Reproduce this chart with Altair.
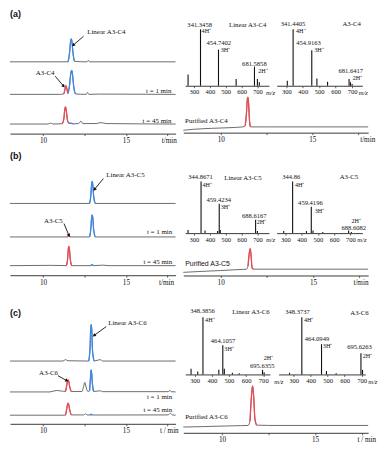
import math
import altair as alt
import pandas as pd

# ======================= DATA =======================
# HPLC traces: (retention time / min, signal above that trace's own baseline, a.u.)
# ---- (a) A3-C4 ----
A_LINEAR = [(8.0, 0), (11.5, 0), (11.6, 10), (11.65, 20), (11.7, 24), (11.75, 20), (11.8, 10), (11.9, 0.5),
            (12.65, 0), (12.73, 1.5), (12.8, 0), (18.0, 0)]
A_T1 = [(8.0, 0), (11.0, 0), (11.25, 0.5), (11.33, 6), (11.38, 9), (11.43, 6), (11.5, 1), (11.6, 10),
        (11.68, 23), (11.73, 25), (11.78, 20), (11.85, 8), (11.95, 0.5), (12.6, 0), (12.68, 2), (12.76, 0),
        (13.4, 0.3), (18.0, 0)]
A_T45 = [(8.0, 0), (10.3, 0), (10.44, 1), (10.6, 0), (11.15, 0.3), (11.25, 5), (11.3, 14), (11.35, 18),
         (11.4, 14), (11.47, 4), (11.55, 1), (11.7, 0.8), (11.85, 0.2), (12.15, 0.5), (12.28, 3), (12.4, 0.5),
         (13.2, 0.5), (13.5, 1.5), (13.8, 0.5), (18.0, 0)]
A_OFFSETS = [75, 41, 10]
A_HIGHLIGHT = [(0, 11.5, 11.9, "blue"), (1, 11.25, 11.5, "red"), (1, 11.5, 11.95, "blue"),
               (2, 11.15, 11.55, "red"), (2, 11.55, 11.85, "blue")]
A_PURIFIED = [(7.95, 2.5), (8.5, 3.5), (9.5, 4.5), (10.5, 5.2), (11.2, 6), (11.33, 7), (11.4, 20), (11.45, 35),
              (11.48, 37), (11.52, 30), (11.57, 12), (11.62, 6), (12.5, 6), (18.05, 6)]
A_PURIFIED_RED = [(0, 11.3, 11.62, "red")]
A_MS_LINEAR = [(263, 20), (341.3458, 100), (454.7402, 64), (566, 12), (681.5858, 34), (700, 12), (712, 6)]
A_MS_CYCLIC = [(306, 9), (341.4405, 100), (454.9163, 63), (486, 13), (551, 7), (681.6417, 12), (690, 6), (700, 3)]
A_MS_LINEAR_NUM = [("341.3458", 336, 108), ("454.7402", 457, 75), ("681.5858", 681, 39)]
A_MS_LINEAR_CHG = [("4H⁺", 348, 97), ("3H⁺", 469, 63), ("2H⁺", 705, 26)]
A_MS_LINEAR_NAME = [("Linear A3-C4", 639, 108)]
A_MS_CYCLIC_NUM = [("341.4405", 341, 110), ("454.9163", 435, 75), ("681.6417", 692, 26)]
A_MS_CYCLIC_CHG = [("4H⁺", 359, 97), ("3H⁺", 470, 64), ("2H⁺", 704, 13)]
A_MS_CYCLIC_NAME = [("A3-C4", 697, 110)]

# ---- (b) A3-C5 ----
B_LINEAR = [(8.0, 0), (12.8, 0), (12.88, 8), (12.93, 20), (12.96, 23), (13.0, 20), (13.05, 8), (13.15, 0), (18.0, 0)]
B_T1 = [(8.0, 0), (11.45, 0), (11.55, 1.2), (11.65, 0), (12.8, 0), (12.88, 8), (12.93, 20), (12.96, 23),
        (13.0, 20), (13.05, 8), (13.15, 0), (18.0, 0)]
B_T45 = [(8.0, 0), (10.5, 0.3), (11.4, 0), (11.48, 7), (11.52, 17), (11.55, 20), (11.59, 17), (11.64, 7),
         (11.73, 0), (12.88, 0), (12.95, 1), (13.03, 0), (13.6, 0.5), (14.0, 0), (18.0, 0)]
B_OFFSETS = [75, 40, 10]
B_HIGHLIGHT = [(0, 12.8, 13.15, "blue"), (1, 11.45, 11.65, "red"), (1, 12.8, 13.15, "blue"),
               (2, 11.4, 11.73, "red"), (2, 12.88, 13.03, "blue")]
B_PURIFIED = [(7.98, 3.3), (9.0, 4.3), (10.0, 5.2), (11.0, 6.2), (11.4, 6.6), (11.48, 10), (11.54, 22),
              (11.6, 28), (11.65, 20), (11.7, 8), (11.78, 6.6), (17.98, 6.6)]
B_PURIFIED_RED = [(0, 11.45, 11.78, "red")]
B_MS_LINEAR = [(263, 6), (344.8671, 100), (370, 5), (449, 4), (459.4234, 57), (466, 6), (688.6167, 26), (700, 4)]
B_MS_CYCLIC = [(290, 4), (344.86, 100), (430, 4), (459.4196, 51), (470, 5), (530, 2), (688.6082, 5), (705, 2)]
B_MS_LINEAR_NUM = [("344.8671", 342, 109), ("459.4234", 457, 64), ("688.6167", 680, 34)]
B_MS_LINEAR_CHG = [("4H⁺", 354, 93), ("3H⁺", 469, 50), ("2H⁺", 696, 21)]
B_MS_LINEAR_NAME = [("Linear A3-C5", 609, 107)]
B_MS_CYCLIC_NUM = [("344.86", 336, 108), ("459.4196", 454, 58), ("688.6082", 720, 9)]
B_MS_CYCLIC_CHG = [("4H⁺", 359, 93), ("3H⁺", 480, 43), ("2H⁺", 706, 24)]
B_MS_CYCLIC_NAME = [("A3-C5", 690, 108)]

# ---- (c) A3-C6 ----
C_LINEAR = [(8.0, 0), (11.2, 0), (11.35, 1.5), (11.5, 0.3), (12.75, 0), (12.83, 12), (12.87, 32), (12.9, 38),
            (12.94, 32), (12.98, 12), (13.08, 0), (13.45, 1.5), (13.6, 0), (18.0, 0)]
C_T1 = [(8.0, 0), (10.4, 0), (10.8, 1.5), (11.1, 1), (11.35, 0.5), (11.42, 6), (11.47, 11), (11.51, 12.7),
        (11.55, 11), (11.6, 6), (11.7, 0.5), (12.35, 0.5), (12.45, 6), (12.52, 10), (12.58, 6), (12.7, 0.5),
        (12.8, 1), (12.85, 12), (12.88, 20), (12.9, 23), (12.93, 20), (12.97, 10), (13.05, 0.5), (13.45, 1.2),
        (13.6, 0.3), (17.55, 0.3), (17.65, 1.5), (17.75, 0.3), (18.0, 0)]
C_T45 = [(8.0, 0), (11.35, 0), (11.42, 6), (11.47, 11), (11.51, 12.6), (11.55, 11), (11.6, 6), (11.7, 0.3),
         (12.45, 0.3), (12.55, 1.5), (12.65, 0.3), (12.85, 0.2), (12.9, 1), (12.97, 0.2), (17.55, 0.3),
         (17.68, 2), (17.8, 0.3), (18.0, 0)]
C_OFFSETS = [65.6, 33.3, 9]
C_HIGHLIGHT = [(0, 12.75, 13.08, "blue"), (1, 11.35, 11.7, "red"), (1, 12.8, 13.05, "blue"),
               (2, 11.35, 11.7, "red"), (2, 12.85, 12.97, "blue")]
C_PURIFIED = [(7.92, 6), (9.0, 6.5), (10.0, 7), (11.0, 7.5), (11.4, 7.7), (11.5, 12), (11.57, 35), (11.64, 49),
              (11.7, 38), (11.77, 14), (11.86, 8), (12.5, 7.7), (17.85, 7.7)]
C_PURIFIED_RED = [(0, 11.45, 11.86, "red")]
C_MS_LINEAR = [(279, 10), (318, 5), (348.3856, 100), (441, 8), (464.1057, 51), (473, 10), (520, 3), (560, 2),
               (695.6355, 8), (705, 4)]
C_MS_CYCLIC = [(276, 3), (348.3737, 100), (464.0949, 53), (493, 6), (550, 2), (695.6263, 37), (705, 8)]
C_MS_LINEAR_NUM = [("348.3856", 346, 111), ("464.1057", 466, 58), ("695.6355", 694, 15)]
C_MS_LINEAR_CHG = [("4H⁺", 361, 96), ("3H⁺", 473, 45), ("2H⁺", 703, 28)]
C_MS_LINEAR_NAME = [("Linear A3-C6", 628, 110)]
C_MS_CYCLIC_NUM = [("348.3737", 323, 110), ("464.0949", 437, 62), ("695.6263", 687, 48)]
C_MS_CYCLIC_CHG = [("4H⁺", 361, 95), ("3H⁺", 472, 49), ("2H⁺", 706, 32)]
C_MS_CYCLIC_NAME = [("A3-C6", 687, 108)]

# annotations on the left chromatograms: (text, time, signal)
A_NOTES_LEFT = [("Linear A3-C4", 12.66, 106)]
A_NOTES_CENTER = [("A3-C4", 10.12, 63)]
A_NOTES_RIGHT = [("t = 1 min", 17.75, 44), ("t = 45 min", 17.75, 13)]
A_ARROWS = [(12.44, 101.7, 11.84, 92.7), (10.73, 60, 11.22, 50)]
B_NOTES_LEFT = [("Linear A3-C5", 13.81, 105)]
B_NOTES_CENTER = [("A3-C5", 10.62, 57)]
B_NOTES_RIGHT = [("t = 1 min", 17.8, 45), ("t = 45 min", 17.8, 14)]
B_ARROWS = [(13.64, 101, 13.12, 90), (11.26, 54, 11.55, 42)]
C_NOTES_LEFT = [("Linear A3-C6", 13.93, 105.3)]
C_NOTES_CENTER = [("A3-C6", 10.33, 53)]
C_NOTES_RIGHT = [("t = 1 min", 17.8, 28), ("t = 45 min", 17.8, 14)]
C_ARROWS = [(13.81, 101.6, 13.1, 92.6), (10.9, 50.3, 11.41, 45.3)]
PANEL_LETTERS = [("(a)", 8.0, 125), ("(b)", 8.0, 125), ("(c)", 8.0, 116)]
PURIFIED_NOTES = [("Purified A3-C4", 8.05, 12), ("Purified A3-C5", 8.08, 11.6), ("Purified A3-C6", 8.02, 16)]

CHROM_TICKS = [10, 12.5, 15, 17.5]
MS_TICKS = [300, 400, 500, 600, 700]

# ======================= LAYOUT / STYLE =======================
W, H = 370, 437
SX, SY = 0.968, 0.962
SERIF = "Liberation Serif"
SANS = "Liberation Sans"
INK = "#111111"
GREY = "#5c5c5c"
COLOURS = {"blue": "#3d88e6", "red": "#ec4a53"}


def px(x):
    return (x - 3) * SX


def py(y):
    return (y - 1) * SY


layers = []


def scale(dom, box, ydir=False):
    f = py if ydir else px
    return alt.Scale(domain=list(dom), range=[f(box[0]), f(box[1])], nice=False, zero=False)


def bottom_axis(values, axis_y, title, title_x, size, minor=False, italic=False):
    kw = dict(orient="bottom", offset=py(axis_y) - H, values=values, grid=False,
              domainColor="#3a3a3a", domainWidth=1, tickColor="#3a3a3a", tickSize=2, tickWidth=0.8,
              labelFont=SERIF, labelFontSize=size, labelColor=INK, labelPadding=1,
              labelFlush=False, labelOverlap=False,
              title=title, titleFont=SERIF, titleFontSize=size, titleFontWeight="normal",
              titleColor=INK, titleX=px(title_x), titleY=3 + size / 2 + 0.5, titleAlign="center",
              titleBaseline="middle", titleAngle=0)
    if minor:
        kw["labelExpr"] = "datum.value % 5 === 0 ? datum.label : ''"
    if italic:
        kw["titleFontStyle"] = "italic"
    return alt.Axis(**kw)


def add_texts(items, xs, ys, align, size, font=SERIF, weight="normal", style="normal"):
    if not items:
        return
    df = pd.DataFrame(items, columns=["label", "x", "y"])
    layers.append(
        alt.Chart(df).mark_text(align=align, baseline="middle", font=font, fontSize=size,
                                fontWeight=weight, fontStyle=style, color=INK)
        .encode(x=alt.X("x:Q", scale=xs, axis=None), y=alt.Y("y:Q", scale=ys, axis=None), text="label:N"))


def add_arrows(arrows, xdom, xbox, ydom, ybox, xs, ys):
    kx = (px(xbox[1]) - px(xbox[0])) / (xdom[1] - xdom[0])
    ky = (py(ybox[0]) - py(ybox[1])) / (ydom[1] - ydom[0])
    rows = []
    for x1, y1, x2, y2 in arrows:
        dx = (x2 - x1) * kx
        dy = -(y2 - y1) * ky
        ang = math.degrees(math.atan2(dx, -dy)) % 360
        rows.append(dict(x1=x1, y1=y1, x2=x2, y2=y2, ang=ang))
    df = pd.DataFrame(rows)
    layers.append(
        alt.Chart(df).mark_rule(color=INK, strokeWidth=0.9)
        .encode(x=alt.X("x1:Q", scale=xs, axis=None), y=alt.Y("y1:Q", scale=ys, axis=None),
                x2="x2:Q", y2="y2:Q"))
    layers.append(
        alt.Chart(df).mark_point(shape="triangle", filled=True, size=14, color=INK, opacity=1)
        .encode(x=alt.X("x2:Q", scale=xs, axis=None), y=alt.Y("y2:Q", scale=ys, axis=None),
                angle=alt.Angle("ang:Q", scale=None)))


def add_chrom(traces, offsets, highlights, xdom, xbox, ydom, ybox, axis):
    xs = scale(xdom, xbox)
    ys = scale(ydom, ybox, ydir=True)
    rows = [{"t": t, "v": s + off, "trace": i}
            for i, (pts, off) in enumerate(zip(traces, offsets)) for t, s in pts]
    layers.append(
        alt.Chart(pd.DataFrame(rows)).mark_line(color=GREY, strokeWidth=0.9, interpolate="monotone")
        .encode(x=alt.X("t:Q", scale=xs, axis=axis), y=alt.Y("v:Q", scale=ys, axis=None), detail="trace:N"))
    for colour in ("blue", "red"):
        hrows = []
        for k, (i, t0, t1, c) in enumerate(highlights):
            if c != colour:
                continue
            for t, s in traces[i]:
                if t0 <= t <= t1:
                    hrows.append({"t": t, "v": s + offsets[i], "seg": k})
        if hrows:
            layers.append(
                alt.Chart(pd.DataFrame(hrows))
                .mark_line(color=COLOURS[colour], strokeWidth=1.3, interpolate="monotone")
                .encode(x=alt.X("t:Q", scale=xs, axis=None), y=alt.Y("v:Q", scale=ys, axis=None),
                        detail="seg:N"))
    return xs, ys


def add_ms(peaks, xdom, xbox, ybox, axis_title_x, nums, charges, name):
    xs = scale(xdom, xbox)
    ys = scale((0, 100), ybox, ydir=True)
    df = pd.DataFrame(peaks, columns=["mz", "rel"])
    df["base"] = 0
    axis = bottom_axis(MS_TICKS, ybox[0], "m/z", axis_title_x, 6.6, italic=True)
    layers.append(
        alt.Chart(df).mark_rule(color=INK, strokeWidth=1.1)
        .encode(x=alt.X("mz:Q", scale=xs, axis=axis), y=alt.Y("rel:Q", scale=ys, axis=None), y2="base:Q"))
    add_texts(nums, xs, ys, "center", 6.6)
    add_texts(charges, xs, ys, "left", 6.2)
    add_texts(name, xs, ys, "center", 6.8)


# ======================= PANELS =======================
panels = [
    dict(tr=[A_LINEAR, A_T1, A_T45], off=A_OFFSETS, hl=A_HIGHLIGHT, box=(130, 20), ttl="t/min", ttlx=168,
         nl=A_NOTES_LEFT, nc=A_NOTES_CENTER, nr=A_NOTES_RIGHT, arr=A_ARROWS, letter=PANEL_LETTERS[0],
         pur=A_PURIFIED, pr=A_PURIFIED_RED, pdom=(7.95, 18.05), pbox=(129, 88), pymax=41, pttlx=374,
         pnote=PURIFIED_NOTES[0], pfont=SERIF,
         ms1=(A_MS_LINEAR, (245, 773), (185, 272), 273, A_MS_LINEAR_NUM, A_MS_LINEAR_CHG, A_MS_LINEAR_NAME),
         ms2=(A_MS_CYCLIC, (241.5, 762.6), (280, 369), 369.5, A_MS_CYCLIC_NUM, A_MS_CYCLIC_CHG, A_MS_CYCLIC_NAME),
         msy=(80, 21)),
    dict(tr=[B_LINEAR, B_T1, B_T45], off=B_OFFSETS, hl=B_HIGHLIGHT, box=(278, 168), ttl="t/min", ttlx=165,
         nl=B_NOTES_LEFT, nc=B_NOTES_CENTER, nr=B_NOTES_RIGHT, arr=B_ARROWS, letter=PANEL_LETTERS[1],
         pur=B_PURIFIED, pr=B_PURIFIED_RED, pdom=(7.98, 17.98), pbox=(278.3, 245), pymax=33.3, pttlx=367,
         pnote=PURIFIED_NOTES[1], pfont=SANS,
         ms1=(B_MS_LINEAR, (245, 773), (185, 272), 273, B_MS_LINEAR_NUM, B_MS_LINEAR_CHG, B_MS_LINEAR_NAME),
         ms2=(B_MS_CYCLIC, (247, 773), (280, 369), 368, B_MS_CYCLIC_NUM, B_MS_CYCLIC_CHG, B_MS_CYCLIC_NAME),
         msy=(234, 180)),
    dict(tr=[C_LINEAR, C_T1, C_T45], off=C_OFFSETS, hl=C_HIGHLIGHT, box=(433.3, 323.3), ttl="t / min", ttlx=168,
         nl=C_NOTES_LEFT, nc=C_NOTES_CENTER, nr=C_NOTES_RIGHT, arr=C_ARROWS, letter=PANEL_LETTERS[2],
         pur=C_PURIFIED, pr=C_PURIFIED_RED, pdom=(7.92, 17.85), pbox=(442.7, 390), pymax=52.7, pttlx=373,
         pnote=PURIFIED_NOTES[2], pfont=SERIF,
         ms1=(C_MS_LINEAR, (245, 739), (185, 273), 281.7, C_MS_LINEAR_NUM, C_MS_LINEAR_CHG, C_MS_LINEAR_NAME),
         ms2=(C_MS_CYCLIC, (212, 721), (282, 372), 379.3, C_MS_CYCLIC_NUM, C_MS_CYCLIC_CHG, C_MS_CYCLIC_NAME),
         msy=(381.7, 322)),
]

LEFT_XDOM, LEFT_XBOX, LEFT_YDOM = (8, 18), (3, 175), (0, 110)

for p in panels:
    axis = bottom_axis(CHROM_TICKS, p["box"][0], p["ttl"], p["ttlx"], 7.2, minor=True)
    xs, ys = add_chrom(p["tr"], p["off"], p["hl"], LEFT_XDOM, LEFT_XBOX, LEFT_YDOM, p["box"], axis)
    add_texts(p["nl"], xs, ys, "left", 7)
    add_texts(p["nc"], xs, ys, "center", 7)
    add_texts(p["nr"], xs, ys, "right", 7)
    add_texts([p["letter"]], xs, ys, "left", 9, font=SANS, weight="bold")
    add_arrows(p["arr"], LEFT_XDOM, LEFT_XBOX, LEFT_YDOM, p["box"], xs, ys)

    paxis = bottom_axis(CHROM_TICKS, p["pbox"][0], p["ttl"], p["pttlx"], 7.2, minor=True)
    pxs, pys = add_chrom([p["pur"]], [0], p["pr"], p["pdom"], (183, 375), (0, p["pymax"]), p["pbox"], paxis)
    add_texts([p["pnote"]], pxs, pys, "left", 7, font=p["pfont"])

    for ms in (p["ms1"], p["ms2"]):
        peaks, dom, xbox, tx, nums, chg, name = ms
        add_ms(peaks, dom, xbox, p["msy"], tx, nums, chg, name)

chart = (
    alt.layer(*layers)
    .resolve_scale(x="independent", y="independent")
    .resolve_axis(x="independent", y="independent")
    .properties(width=W, height=H, padding=0)
    .configure_view(strokeWidth=0)
)
chart.save("out.html", embed_options={"renderer": "svg", "actions": False})
